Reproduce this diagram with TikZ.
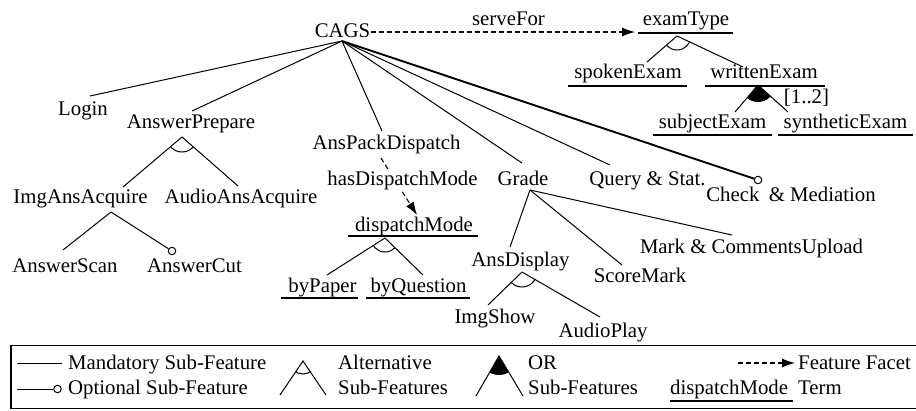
\documentclass[tikz,border=0pt]{standalone}
\usepackage{fontspec}
\setmainfont{Liberation Serif}
\usetikzlibrary{arrows.meta,calc}
\newcommand{\altsym}[4]{\begin{scope}\clip (#1) -- ($(#1)!4!(#2)$) -- ($(#1)!4!(#3)$) -- cycle; \draw[link] (#1) circle[radius=#4];\end{scope}}
\newcommand{\orsym}[4]{\begin{scope}\clip (#1) -- ($(#1)!4!(#2)$) -- ($(#1)!4!(#3)$) -- cycle; \fill (#1) circle[radius=#4];\end{scope}}
\begin{document}
\begin{tikzpicture}[x=1pt,y=-1pt,font=\fontsize{20.8}{24}\selectfont,
  lbl/.style={anchor=base,inner sep=0pt},
  lblw/.style={anchor=base west,inner sep=0pt},
  link/.style={line width=1pt},
  boldlink/.style={line width=1.9pt},
  termline/.style={line width=2.2pt},
  facet/.style={dash pattern=on 5pt off 3pt,line width=1.1pt,-{Latex[length=13pt,width=9pt]}},
  opt/.style={draw,fill=white,circle,inner sep=0pt,minimum size=7.5pt,line width=1pt}]
\useasboundingbox (0,0) rectangle (916,410);

% ---------- nodes ----------
\node[lbl] (CAGS) at (342.5,37) {CAGS};
\node[lbl] (Login) at (83,115) {Login};
\node[lbl] (AP) at (191,128) {AnswerPrepare};
\node[lbl] (IAA) at (80.5,203) {ImgAnsAcquire};
\node[lbl] (AAA) at (241,203) {AudioAnsAcquire};
\node[lbl] (AS) at (65,272) {AnswerScan};
\node[lbl] (AC) at (194.5,272) {AnswerCut};
\node[lbl] (APD) at (386.5,149.5) {AnsPackDispatch};
\node[lbl] (DM) at (414,231) {dispatchMode};
\node[lbl] (BP) at (322.5,292) {byPaper};
\node[lbl] (BQ) at (418.5,292) {byQuestion};
\node[lbl] (G) at (523,185) {Grade};
\node[lbl] (Q) at (647.5,185) {Query \& Stat.};
\node[lbl] (Chk) at (791,201.7) {Check\hspace{0.45em}\& Mediation};
\node[lbl] (MC) at (751.5,253) {Mark \& CommentsUpload};
\node[lbl] (AD) at (520.5,266) {AnsDisplay};
\node[lbl] (SM) at (640,282) {ScoreMark};
\node[lbl] (IS) at (495,323) {ImgShow};
\node[lbl] (AuP) at (603,337) {AudioPlay};
\node[lbl] (SF) at (508.5,25) {serveFor};
\node[lbl] (ET) at (686,25) {examType};
\node[lbl] (SE) at (628,78) {spokenExam};
\node[lbl] (WE) at (764,78) {writtenExam};
\node[lbl] (card) at (806.5,103) {[1..2]};
\node[lbl] (SjE) at (712.5,128) {subjectExam};
\node[lbl] (StE) at (845.5,128) {syntheticExam};

% ---------- connection points ----------
\coordinate (CAGS-b) at (342,41);
\coordinate (CAGS-out) at (371,32);
\coordinate (ET-in) at (635,32);
\coordinate (Login-t) at (90,96);
\coordinate (AP-t) at (192,111);
\coordinate (AP-b) at (182,137);
\coordinate (IAA-t) at (123,187);
\coordinate (IAA-b) at (111,212);
\coordinate (AAA-t) at (238,186);
\coordinate (AS-t) at (63,250);
\node[opt] (AC-o) at (172,251) {};
\coordinate (APD-t) at (382,131);
\coordinate (APD-b) at (381,158);
\coordinate (DM-in) at (417,215);
\coordinate (DM-b) at (385,238);
\coordinate (BP-t) at (327,275);
\coordinate (BQ-t) at (423,275);
\coordinate (G-t) at (522,163);
\coordinate (G-b) at (530,190);
\coordinate (Q-t) at (610,165);
\node[opt] (Chk-o) at (758,180) {};
\coordinate (MC-t) at (732,235);
\coordinate (AD-t) at (510,247);
\coordinate (AD-b) at (522,272);
\coordinate (SM-t) at (622,265);
\coordinate (IS-t) at (488,305);
\coordinate (AuP-t) at (600,317);
\coordinate (ET-b) at (677,36);
\coordinate (SE-t) at (647,62);
\coordinate (WE-t) at (743,67);
\coordinate (WE-b) at (758,85);
\coordinate (SjE-t) at (735,112);
\coordinate (StE-t) at (788,112);

% ---------- underlines (terms) ----------
\draw[termline] (638,33) -- (733,33);
\draw[termline] (568,86) -- (687,86);
\draw[termline] (705,86) -- (825,86);
\draw[termline] (653,135) -- (772,135);
\draw[termline] (778,135) -- (913,135);
\draw[termline] (348,236) -- (478,236);
\draw[termline] (281,298) -- (358,298);
\draw[termline] (366,298) -- (470,298);

% ---------- connectors ----------
\draw[link] (CAGS-b) -- (Login-t);
\draw[link] (CAGS-b) -- (AP-t);
\draw[link] (CAGS-b) -- (APD-t);
\draw[link] (CAGS-b) -- (G-t);
\draw[link] (CAGS-b) -- (Q-t);
\draw[boldlink] (CAGS-b) -- (Chk-o);
\draw[link] (AP-b) -- (IAA-t);
\draw[link] (AP-b) -- (AAA-t);
\altsym{AP-b}{IAA-t}{AAA-t}{15pt}
\draw[link] (IAA-b) -- (AS-t);
\draw[link] (IAA-b) -- (AC-o);
\draw[facet] (APD-b) -- (DM-in);
\node[lbl,fill=white,inner sep=1pt] (HDM) at (402.5,185) {hasDispatchMode};
\draw[link] (DM-b) -- (BP-t);
\draw[link] (DM-b) -- (BQ-t);
\altsym{DM-b}{BP-t}{BQ-t}{14pt}
\draw[link] (G-b) -- (AD-t);
\draw[link] (G-b) -- (SM-t);
\draw[link] (G-b) -- (MC-t);
\draw[link] (AD-b) -- (IS-t);
\draw[link] (AD-b) -- (AuP-t);
\altsym{AD-b}{IS-t}{AuP-t}{15pt}
\draw[facet] (CAGS-out) -- (ET-in);
\draw[link] (ET-b) -- (SE-t);
\draw[link] (ET-b) -- (WE-t);
\altsym{ET-b}{SE-t}{WE-t}{14pt}
\draw[link] (WE-b) -- (SjE-t);
\draw[link] (WE-b) -- (StE-t);
\orsym{WE-b}{SjE-t}{StE-t}{17pt}

% ---------- legend ----------
\draw[line width=1.3pt] (925,345.5) -- (11,345.5) -- (11,408.5) -- (925,408.5);
\coordinate (L1a) at (17,363); \coordinate (L1b) at (62,363);
\draw[link] (L1a) -- (L1b);
\node[lblw] (L1t) at (68,369) {Mandatory Sub-Feature};
\coordinate (L2a) at (17,389);
\node[opt] (L2o) at (57.5,389) {};
\draw[link] (L2a) -- (L2o);
\node[lblw] (L2t) at (68,394) {Optional Sub-Feature};
\coordinate (LAa) at (303,361); \coordinate (LAl) at (280,395); \coordinate (LAr) at (326,395);
\draw[link] (LAl) -- (LAa) -- (LAr);
\altsym{LAa}{LAl}{LAr}{13pt}
\node[lblw] (LAt1) at (338,369) {Alternative};
\node[lblw] (LAt2) at (338,394) {Sub-Features};
\coordinate (LOa) at (499,356); \coordinate (LOl) at (476,396); \coordinate (LOr) at (523,396);
\draw[link] (LOl) -- (LOa) -- (LOr);
\orsym{LOa}{LOl}{LOr}{19pt}
\node[lblw] (LOt1) at (528,369) {OR};
\node[lblw] (LOt2) at (528,394) {Sub-Features};
\coordinate (LFa) at (738,363); \coordinate (LFb) at (795,363);
\draw[facet] (LFa) -- (LFb);
\node[lblw] (LFt) at (798,369) {Feature Facet};
\node[lblw] (LTt) at (670,394) {dispatchMode};
\draw[termline] (670,401) -- (793,401);
\node[lblw] (LTt2) at (798,394) {Term};
\end{tikzpicture}
\end{document}
